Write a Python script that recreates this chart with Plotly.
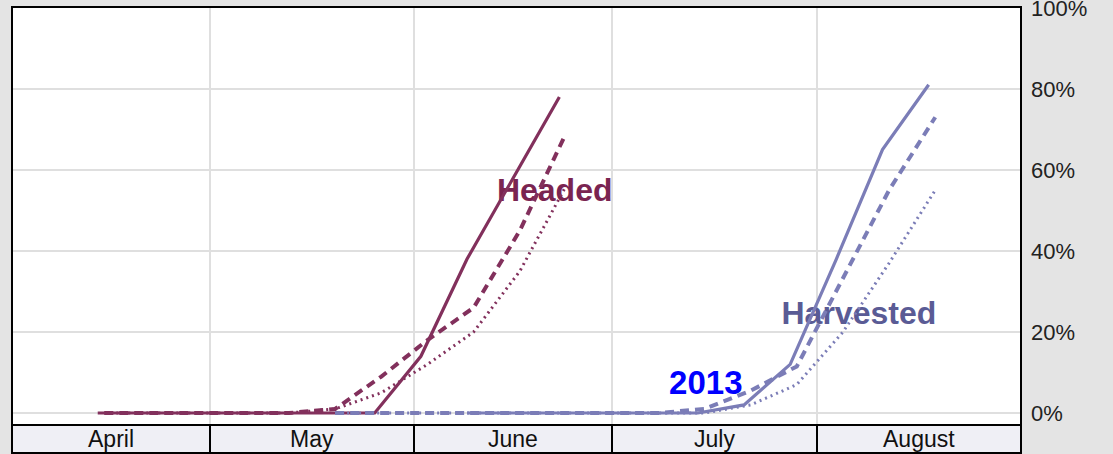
import pandas as pd
import plotly.graph_objects as go

# ---------------- data ----------------
month_starts = ["2013-04-01", "2013-05-01", "2013-06-01", "2013-07-01", "2013-08-01", "2013-09-01"]
month_names = ["April", "May", "June", "July", "August"]

# 2013 week-ending dates
headed_2013_dates = ["2013-04-14", "2013-04-21", "2013-04-28", "2013-05-05", "2013-05-12", "2013-05-19",
                     "2013-05-26", "2013-06-02", "2013-06-09", "2013-06-16", "2013-06-23"]
headed_2013 = [0, 0, 0, 0, 0, 0, 0, 14, 38, 58, 78]

# comparison (prior year / average) week-ending dates
headed_cmp_dates = ["2013-04-15", "2013-04-22", "2013-04-29", "2013-05-06", "2013-05-13", "2013-05-20",
                    "2013-05-27", "2013-06-03", "2013-06-10", "2013-06-17", "2013-06-24"]
headed_prev = [0, 0, 0, 0, 0, 1, 9, 18, 26, 45, 69]
headed_avg = [0, 0, 0, 0, 0, 1, 5, 12, 20, 35, 56]

harv_2013_dates = ["2013-06-09", "2013-06-16", "2013-06-23", "2013-06-30", "2013-07-07", "2013-07-14",
                   "2013-07-21", "2013-07-28", "2013-08-04", "2013-08-11", "2013-08-18"]
harv_2013 = [0, 0, 0, 0, 0, 0, 2, 12, 38, 65, 81]

harv_cmp_dates = ["2013-05-20", "2013-05-27", "2013-06-03", "2013-06-10", "2013-06-17", "2013-06-24",
                  "2013-07-01", "2013-07-08", "2013-07-15", "2013-07-22", "2013-07-29", "2013-08-05",
                  "2013-08-12", "2013-08-19"]
harv_prev = [0, 0, 0, 0, 0, 0, 0, 0, 1, 5.5, 11.5, 33, 55, 73]
harv_avg = [0, 0, 0, 0, 0, 0, 0, 0, 0, 2, 7, 20, 37, 55]

y_ticks = [0, 20, 40, 60, 80, 100]
y_tick_text = ["0%", "20%", "40%", "60%", "80%", "100%"]

label_text = ["Headed", "Harvested", "2013"]
label_x = ["2013-06-22 07:00", "2013-08-07 10:00", "2013-07-15 05:00"]
label_y = [54.3, 24, 6.7]

# ---------------- styles ----------------
MAROON = "#82305C"
LAVENDER = "#7B7DB7"
FONT = "Liberation Sans, Arial, sans-serif"

fig = go.Figure()

# labels (drawn first so lines pass over them)
label_colors = ["#7A2451", "#5A5B95", "#0000FF"]
label_sizes = [32, 32, 33]
for t, x, y, c, s in zip(label_text, label_x, label_y, label_colors, label_sizes):
    fig.add_trace(go.Scatter(x=[x], y=[y], mode="text", text=[t], textposition="middle center",
                             textfont=dict(family=FONT, size=s, color=c, weight="bold"),
                             showlegend=False, hoverinfo="skip"))

def line(x, y, color, dash, width):
    fig.add_trace(go.Scatter(x=x, y=y, mode="lines", showlegend=False,
                             line=dict(color=color, dash=dash, width=width)))

line(headed_cmp_dates, headed_avg, MAROON, "2px,4px", 3)
line(headed_cmp_dates, headed_prev, MAROON, "9px,6px", 4)
line(headed_2013_dates, headed_2013, MAROON, "solid", 3.2)
line(harv_cmp_dates, harv_avg, LAVENDER, "2px,4px", 3)
line(harv_cmp_dates, harv_prev, LAVENDER, "9px,6px", 4)
line(harv_2013_dates, harv_2013, LAVENDER, "solid", 3.2)

# ---------------- layout ----------------
W, H = 1113, 454
m_l, m_r, m_t, m_b = 12, 92, 7, 29
plot_h = H - m_t - m_b
band_h = 28
band_frac = band_h / plot_h

starts = pd.to_datetime(month_starts)
mids = [starts[i] + (starts[i + 1] - starts[i]) / 2 for i in range(len(month_names))]

annotations = [dict(x=m, y=-band_frac / 2, xref="x", yref="paper", text=n, showarrow=False,
                    xanchor="center", yanchor="middle",
                    font=dict(family=FONT, size=23, color="#111111"))
               for m, n in zip(mids, month_names)]

shapes = [
    dict(type="rect", xref="paper", yref="paper", x0=0, x1=1, y0=-band_frac, y1=0,
         fillcolor="#EFEFF5", line=dict(width=0), layer="below"),
    dict(type="rect", xref="paper", yref="paper", x0=0, x1=1, y0=-band_frac, y1=0,
         fillcolor="rgba(0,0,0,0)", line=dict(color="black", width=2), layer="above"),
    dict(type="rect", xref="paper", yref="paper", x0=0, x1=1, y0=-band_frac, y1=1,
         fillcolor="rgba(0,0,0,0)", line=dict(color="black", width=2), layer="above"),
]

fig.update_layout(
    width=W, height=H,
    margin=dict(l=m_l, r=m_r, t=m_t, b=m_b, pad=0, autoexpand=False),
    paper_bgcolor="#E4E4E4",
    plot_bgcolor="white",
    showlegend=False,
    annotations=annotations,
    shapes=shapes,
    xaxis=dict(type="date", range=[month_starts[0], month_starts[-1]],
               tickvals=month_starts, showticklabels=False,
               ticks="outside", ticklen=band_h, tickwidth=2, tickcolor="black",
               showgrid=True, gridcolor="#DFDFDF", gridwidth=2,
               zeroline=False, showline=False, fixedrange=True),
    yaxis=dict(side="right", range=[-2.96, 100.2], tickmode="array",
               tickvals=y_ticks, ticktext=y_tick_text, ticklabeloverflow="allow",
               showgrid=True, gridcolor="#DFDFDF", gridwidth=2, zeroline=False,
               showline=False, ticks="", ticklabelstandoff=9, automargin=False,
               tickfont=dict(family=FONT, size=22, color="#222222"), fixedrange=True),
)

fig.write_html("out.html", config={"displayModeBar": False},
               post_script="document.body.style.margin='0px';document.body.style.overflow='hidden';")
